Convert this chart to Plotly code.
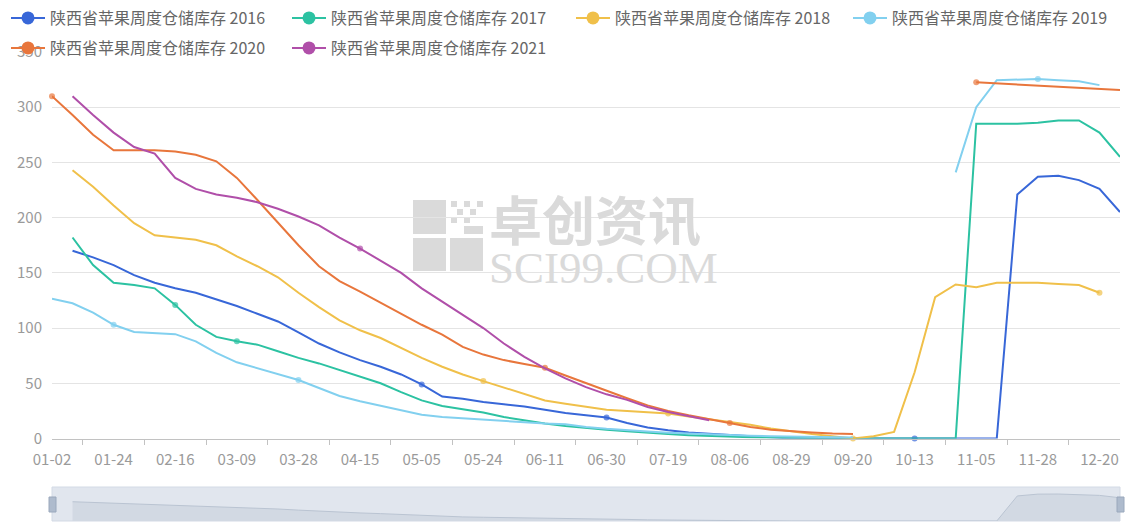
import plotly.graph_objects as go

# ---------------- data ----------------
weeks = ["01-02", "01-09", "01-16", "01-24", "01-31", "02-08", "02-16", "02-23", "03-02",
         "03-09", "03-15", "03-21", "03-28", "04-03", "04-09", "04-15", "04-22", "04-28",
         "05-05", "05-11", "05-18", "05-24", "05-30", "06-05", "06-11", "06-18", "06-24",
         "06-30", "07-06", "07-12", "07-19", "07-25", "07-31", "08-06", "08-13", "08-21",
         "08-29", "09-05", "09-13", "09-20", "09-28", "10-06", "10-13", "10-20", "10-28",
         "11-05", "11-12", "11-20", "11-28", "12-05", "12-13", "12-20", "12-27"]

tick_labels = ["01-02", "01-24", "02-16", "03-09", "03-28", "04-15", "05-05", "05-24", "06-11",
               "06-30", "07-19", "08-06", "08-29", "09-20", "10-13", "11-05", "11-28", "12-20"]

names = ["陕西省苹果周度仓储库存 2016", "陕西省苹果周度仓储库存 2017", "陕西省苹果周度仓储库存 2018",
         "陕西省苹果周度仓储库存 2019", "陕西省苹果周度仓储库存 2020", "陕西省苹果周度仓储库存 2021"]

s2016 = [None, 170, 164, 157, 148, 141, 136, 132, 126, 120, 113, 106, 96, 86, 78, 71, 65, 58,
         49, 38, 36, 33, 31, 29, 26, 23, 21, 19, 14, 10, 7.5, 5.5, 4.3, 3.2, 2.3, 1.2,
         0, 0, 0, 0, 0, 0, 0, 0, 0, 0, 0, 221, 237, 238, 234, 226, 205]

s2017 = [None, 182, 157, 141, 139, 136, 121, 103, 92, 88, 85, 79, 73, 68, 62, 56, 50, 42,
         34.5, 29.5, 26.5, 23.5, 19.5, 16.5, 13.5, 11.3, 9.5, 8, 6.6, 5, 4, 3, 2.2, 1.6, 1.1, 0.8,
         0.5, 0, 0, 0, 0, 0, 0, 0, 0, 285, 285, 285, 286, 288, 288, 277, 255]

s2018 = [None, 243, 228, 211, 195, 184, 182, 180, 175, 165, 156, 146, 132, 119, 107, 98, 91, 82,
         73, 65, 58, 52, 46, 40, 34.5, 31.5, 28.5, 26, 25, 24, 22.6, 20, 17.5, 14.5, 12.5, 9,
         6.3, 4, 2, 0, 2, 6, 60, 128, 139.5, 137, 141, 141, 141, 140, 139, 132, None]

s2019 = [126.5, 122.5, 114, 103, 96.5, 95.5, 94.5, 88, 77.5, 69, 63.5, 58.5, 53, 45.7, 38.5, 33.7,
         29.7, 25.5, 21.5, 19.5, 18.3, 17, 15.8, 14.7, 13.5, 13, 10.5, 8.8, 7.3, 6.3, 5.3, 4.5,
         3.8, 3, 2.5, 2, 1.8, 1.6, 1.4, 1, None, None, None, None,
         241, 300, 324.5, 325, 325.5, 324.5, 323.5, 320, None]

s2020 = [310, 293, 275, 261, 261, 261, 260, 257, 251, 236, 216, 195, 175, 156, 142.5, 133, 123,
         113, 103, 94, 83, 76, 71, 67.5, 64, 57, 50, 43, 36.5, 30, 25, 21, 17.5, 14, 10.5, 8,
         6.5, 5.5, 4.5, 4, None, None, None, None, None,
         322.5, 321.5, 320.5, 319.5, 318.5, 317.5, 316.5, 315.5]

s2021 = [None, 310, 293, 277, 264, 258, 236, 226, 221, 218, 214, 208, 201, 193, 182, 172, 161,
         150, 136, 124, 112, 100, 86, 74, 63.5, 54.5, 46.5, 40, 35, 28.5, 24, 20, 16.5,
         None, None, None, None, None, None, None, None, None, None, None, None, None, None,
         None, None, None, None, None, None]

series = [s2016, s2017, s2018, s2019, s2020, s2021]

# ---------------- styles ----------------
colors = ["#3867d8", "#2cc2a2", "#f0c04a", "#82d0ef", "#e8763c", "#b04fa9"]
dot_dates = [["05-05", "06-30", "10-13"],
             ["02-16", "03-09"],
             ["05-24", "07-19", "09-20", "12-20"],
             ["01-24", "03-28", "11-28"],
             ["01-02", "06-11", "08-06", "11-05"],
             ["04-15"]]
legend_pos = [(6, 18), (287, 18), (571, 18), (848, 18), (6, 48), (287, 48)]

W, H = 1127, 523
ML, MR, MT, MB = 52, 7, 52, 2
PW, PH = W - ML - MR, H - MT - MB


def px(x):
    return (x - ML) / PW


def py(y):
    return (H - MB - y) / PH


x_idx = list(range(len(weeks)))
tickvals = [weeks.index(t) for t in tick_labels]
minor_vals = [v + 1.5 for v in tickvals]

fig = go.Figure()

for vals, col, dd in zip(series, colors, dot_dates):
    sizes = [6 if w in dd else 0 for w in weeks]
    fig.add_trace(go.Scatter(
        x=x_idx, y=vals, mode="lines+markers",
        line=dict(color=col, width=2),
        marker=dict(size=sizes, color=col, line=dict(width=0)),
        showlegend=False, cliponaxis=False, hoverinfo="skip",
        xaxis="x", yaxis="y"))

# legend entries (one legend per entry, placed like the reference)
legend_layout = {}
for j, (name, col) in enumerate(zip(names, colors)):
    key = "legend" if j == 0 else f"legend{j + 1}"
    fig.add_trace(go.Scatter(
        x=[None], y=[None], mode="lines+markers", name=name,
        line=dict(color=col, width=2), marker=dict(size=13, color=col),
        legend=key, showlegend=True, xaxis="x", yaxis="y"))
    lx, ly = legend_pos[j]
    legend_layout[key] = dict(
        x=lx / W, y=1 - ly / H, xref="container", yref="container",
        xanchor="left", yanchor="middle", orientation="h",
        bgcolor="rgba(0,0,0,0)", borderwidth=0, itemwidth=34,
        font=dict(size=16, color="#666666",
                  family="Noto Sans CJK SC, Microsoft YaHei, sans-serif"))

# data-zoom slider shadow (first series)
fig.add_trace(go.Scatter(
    x=x_idx, y=s2016, mode="lines", xaxis="x2", yaxis="y2",
    line=dict(color="#bac4d2", width=1), fill="tozeroy", fillcolor="#d2d9e3",
    showlegend=False, hoverinfo="skip"))

shapes = [
    # slider background
    dict(type="rect", xref="x2 domain", yref="y2 domain", x0=0, x1=1, y0=0, y1=1,
         fillcolor="#e1e6ee", line=dict(color="#d3dae5", width=1), layer="below"),
    # slider handles
    dict(type="rect", xref="paper", yref="paper", x0=px(49), x1=px(56), y0=py(512), y1=py(497),
         fillcolor="#aebbcd", line=dict(color="#9aa8bc", width=1)),
    dict(type="rect", xref="paper", yref="paper", x0=px(1117), x1=px(1124), y0=py(512), y1=py(497),
         fillcolor="#aebbcd", line=dict(color="#9aa8bc", width=1)),
]

# watermark logo blocks
wm = "#dadada"
blocks = [(413, 200, 446, 234), (413, 238, 446, 271), (450, 238, 483, 271),
          (451, 201, 457, 207), (464, 201, 470, 207), (477, 201, 483, 207),
          (457, 209, 463, 215), (470, 209, 476, 215),
          (451, 217, 457, 223), (464, 217, 470, 223),
          (464, 226, 483, 234)]
for x0, y0, x1, y1 in blocks:
    shapes.append(dict(type="rect", xref="paper", yref="paper", x0=px(x0), x1=px(x1),
                       y0=py(y1), y1=py(y0), fillcolor=wm, line=dict(width=0), layer="below"))

watermark = ("<span style='font-size:53px;font-weight:bold'>卓创资讯</span><br>"
             "<span style='font-family:Liberation Serif, DejaVu Serif, serif;font-size:45px'>"
             "SCI99.COM</span>")
annotations = [
    dict(text=watermark, x=px(487), y=py(237), xref="paper", yref="paper",
         showarrow=False, xanchor="left", yanchor="middle", align="left",
         font=dict(size=32, color=wm, family="Noto Sans CJK SC, sans-serif")),
]

fig.update_layout(
    width=W, height=H,
    margin=dict(l=ML, r=MR, t=MT, b=MB, autoexpand=False),
    paper_bgcolor="white", plot_bgcolor="white",
    font=dict(family="Noto Sans CJK SC, sans-serif", size=15, color="#999999"),
    xaxis=dict(domain=[0, 1], anchor="y", range=[0, len(weeks) - 1],
               tickmode="array", tickvals=tickvals, ticktext=tick_labels,
               ticks="", showgrid=False, zeroline=False,
               showline=True, linecolor="#c2c2c2", linewidth=1,
               tickfont=dict(size=15, color="#9a9a9a"), ticklabelstandoff=7,
               minor=dict(tickmode="array", tickvals=minor_vals, ticks="outside",
                          ticklen=5, tickcolor="#c2c2c2", tickwidth=1, showgrid=False)),
    yaxis=dict(domain=[py(438.5), 1], anchor="x", range=[0, 350], tick0=0, dtick=50,
               showgrid=True, gridcolor="#e4e4e4", gridwidth=1, zeroline=False,
               showline=False, ticks="", tickfont=dict(size=15, color="#9a9a9a"),
               ticklabelstandoff=9),
    xaxis2=dict(domain=[0, 1], anchor="y2", range=[0, len(weeks) - 1], visible=False),
    yaxis2=dict(domain=[0, py(487)], anchor="x2", range=[0, 300], visible=False),
    shapes=shapes, annotations=annotations,
    **legend_layout,
)

fig.write_html("out.html", config={"displayModeBar": False},
               post_script="document.body.style.margin='0px';")
